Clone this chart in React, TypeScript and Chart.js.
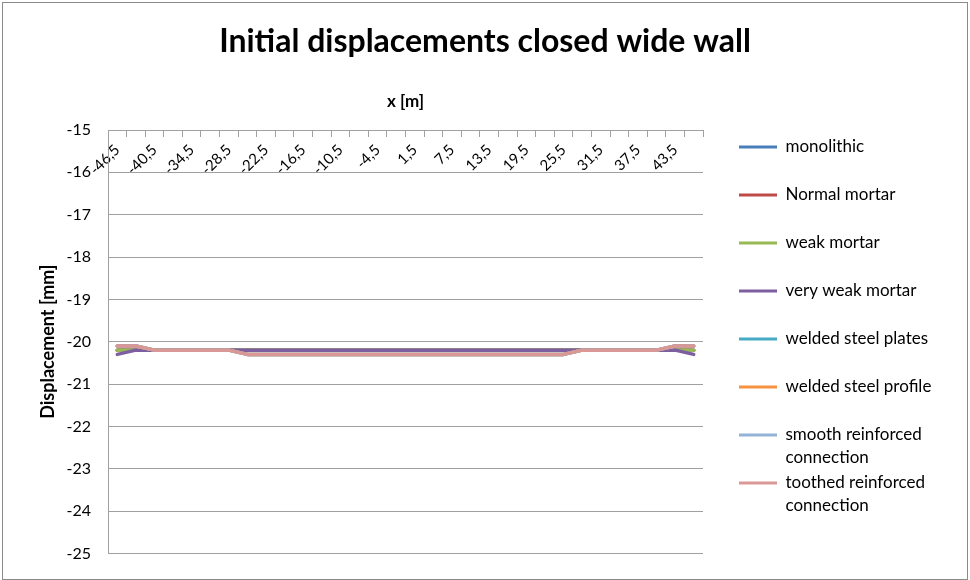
import { useEffect, useRef } from 'react';
import { Chart, registerables } from 'chart.js';

Chart.register(...registerables);

const FONT = "Lato, 'DejaVu Sans', sans-serif";

const xLabels = [
  '-46,5', '-43,5', '-40,5', '-37,5', '-34,5', '-31,5', '-28,5', '-25,5',
  '-22,5', '-19,5', '-16,5', '-13,5', '-10,5', '-7,5', '-4,5', '-1,5',
  '1,5', '4,5', '7,5', '10,5', '13,5', '16,5', '19,5', '22,5',
  '25,5', '28,5', '31,5', '34,5', '37,5', '40,5', '43,5', '46,5',
];

const monolithic = [
  -20.2, -20.2, -20.2, -20.2, -20.2, -20.2, -20.2, -20.2,
  -20.2, -20.2, -20.2, -20.2, -20.2, -20.2, -20.2, -20.2,
  -20.2, -20.2, -20.2, -20.2, -20.2, -20.2, -20.2, -20.2,
  -20.2, -20.2, -20.2, -20.2, -20.2, -20.2, -20.2, -20.2,
];
const normalMortar = [
  -20.2, -20.2, -20.2, -20.2, -20.2, -20.2, -20.2, -20.2,
  -20.2, -20.2, -20.2, -20.2, -20.2, -20.2, -20.2, -20.2,
  -20.2, -20.2, -20.2, -20.2, -20.2, -20.2, -20.2, -20.2,
  -20.2, -20.2, -20.2, -20.2, -20.2, -20.2, -20.2, -20.2,
];
const weakMortar = [
  -20.2, -20.2, -20.2, -20.2, -20.2, -20.2, -20.2, -20.2,
  -20.2, -20.2, -20.2, -20.2, -20.2, -20.2, -20.2, -20.2,
  -20.2, -20.2, -20.2, -20.2, -20.2, -20.2, -20.2, -20.2,
  -20.2, -20.2, -20.2, -20.2, -20.2, -20.2, -20.2, -20.2,
];
const veryWeakMortar = [
  -20.3, -20.2, -20.2, -20.2, -20.2, -20.2, -20.2, -20.2,
  -20.2, -20.2, -20.2, -20.2, -20.2, -20.2, -20.2, -20.2,
  -20.2, -20.2, -20.2, -20.2, -20.2, -20.2, -20.2, -20.2,
  -20.2, -20.2, -20.2, -20.2, -20.2, -20.2, -20.2, -20.3,
];
const weldedPlates = [
  -20.1, -20.1, -20.2, -20.2, -20.2, -20.2, -20.2, -20.3,
  -20.3, -20.3, -20.3, -20.3, -20.3, -20.3, -20.3, -20.3,
  -20.3, -20.3, -20.3, -20.3, -20.3, -20.3, -20.3, -20.3,
  -20.3, -20.2, -20.2, -20.2, -20.2, -20.2, -20.1, -20.1,
];
const weldedProfile = [
  -20.1, -20.1, -20.2, -20.2, -20.2, -20.2, -20.2, -20.3,
  -20.3, -20.3, -20.3, -20.3, -20.3, -20.3, -20.3, -20.3,
  -20.3, -20.3, -20.3, -20.3, -20.3, -20.3, -20.3, -20.3,
  -20.3, -20.2, -20.2, -20.2, -20.2, -20.2, -20.1, -20.1,
];
const smoothReinforced = [
  -20.1, -20.1, -20.2, -20.2, -20.2, -20.2, -20.2, -20.3,
  -20.3, -20.3, -20.3, -20.3, -20.3, -20.3, -20.3, -20.3,
  -20.3, -20.3, -20.3, -20.3, -20.3, -20.3, -20.3, -20.3,
  -20.3, -20.2, -20.2, -20.2, -20.2, -20.2, -20.1, -20.1,
];
const toothedReinforced = [
  -20.1, -20.1, -20.2, -20.2, -20.2, -20.2, -20.2, -20.3,
  -20.3, -20.3, -20.3, -20.3, -20.3, -20.3, -20.3, -20.3,
  -20.3, -20.3, -20.3, -20.3, -20.3, -20.3, -20.3, -20.3,
  -20.3, -20.2, -20.2, -20.2, -20.2, -20.2, -20.1, -20.1,
];

const seriesNames = [
  'monolithic', 'Normal mortar', 'weak mortar', 'very weak mortar',
  'welded steel plates', 'welded steel profile', 'smooth reinforced connection', 'toothed reinforced connection',
];
const legendLines = [
  ['monolithic', ''], ['Normal mortar', ''], ['weak mortar', ''], ['very weak mortar', ''],
  ['welded steel plates', ''], ['welded steel profile', ''], ['smooth reinforced', 'connection'], ['toothed reinforced', 'connection'],
];
const seriesColors = ['#4A7EBB', '#BE4B48', '#98B954', '#7D5FA0', '#46AAC5', '#F69240', '#94B3D6', '#D99795'];
const seriesData = [monolithic, normalMortar, weakMortar, veryWeakMortar, weldedPlates, weldedProfile, smoothReinforced, toothedReinforced];

const yMin = -25;
const yMax = -15;
const yStep = 1;

const LEGEND_SIZE = 17;

export default function App() {
  const ref = useRef<HTMLCanvasElement>(null);

  useEffect(() => {
    const canvas = ref.current;
    if (!canvas) return;

    // measure legend natural width to place chart area precisely
    const mctx = document.createElement('canvas').getContext('2d')!;
    mctx.font = `normal ${LEGEND_SIZE}px ${FONT}`;
    let maxText = 0;
    legendLines.forEach((lines) => {
      const longest = lines.reduce((a, b) => (a.length > b.length ? a : b));
      maxText = Math.max(maxText, mctx.measureText(longest).width);
    });
    const legendW = Math.min(233, 2 + 38 + LEGEND_SIZE / 2 + maxText + 10);
    const padR = Math.max(0, 970 - 737 - legendW);
    // symmetric padding so the full-width title stays centred on the canvas
    const padL = Math.min(padR, 30);

    const gridColor = '#a0a0a0';

    const chart = new Chart(canvas, {
      type: 'line',
      data: {
        labels: xLabels,
        datasets: seriesData.map((d, i) => ({
          label: seriesNames[i],
          data: d,
          borderColor: seriesColors[i],
          backgroundColor: seriesColors[i],
          borderWidth: 3.5,
          pointRadius: 0,
          pointHoverRadius: 0,
          tension: 0,
          fill: false,
          borderJoinStyle: 'round' as const,
          borderCapStyle: 'round' as const,
          order: seriesData.length - 1 - i,
        })),
      },
      options: {
        responsive: false,
        animation: false,
        layout: { padding: { left: padL, top: 0, right: padR, bottom: 22 } },
        plugins: {
          tooltip: { enabled: false },
          title: {
            display: true,
            text: 'Initial displacements closed wide wall',
            color: '#000',
            font: { family: FONT, size: 32, weight: 'bold' },
            padding: { top: 22.5, bottom: 0 },
          },
          legend: {
            display: true,
            position: 'right',
            align: 'start',
            fullSize: false,
            maxWidth: legendW,
            title: { display: true, text: '', font: { size: 5, lineHeight: 1.3 }, padding: 0 },
            labels: {
              boxWidth: 38,
              boxHeight: 3,
              padding: 2,
              color: '#000',
              font: { family: FONT, size: LEGEND_SIZE, lineHeight: '23px' },
              generateLabels: () =>
                seriesNames.map((_, i) => ({
                  text: legendLines[i] as any,
                  fillStyle: seriesColors[i],
                  strokeStyle: seriesColors[i],
                  fontColor: '#000',
                  lineWidth: 0,
                  hidden: false,
                  datasetIndex: i,
                })),
            },
          },
        },
        scales: {
          x: {
            type: 'category',
            position: { y: yMax } as any,
            offset: true,
            grid: { offset: true, drawOnChartArea: false, drawTicks: true, tickLength: 6, color: gridColor },
            border: { display: true, color: gridColor },
            ticks: {
              autoSkip: false,
              minRotation: 45,
              maxRotation: 45,
              padding: 5,
              color: '#000',
              font: { family: FONT, size: 15 },
              callback: (_v: any, i: number) => (i % 2 === 0 ? xLabels[i] : ''),
            },
          },
          x2: {
            type: 'category',
            position: 'top',
            grid: { display: false, drawTicks: false },
            ticks: { display: false },
            border: { display: false },
            title: {
              display: true,
              text: 'x [m]',
              color: '#000',
              font: { family: FONT, size: 17, weight: 'bold' },
              padding: { top: 30.9, bottom: 0 },
            },
            afterFit: (s: any) => { s.height = 69.1; },
          },
          y: {
            type: 'linear',
            min: yMin,
            max: yMax,
            ticks: { stepSize: yStep, padding: 17, color: '#000', font: { family: FONT, size: 16 } },
            grid: { color: gridColor, drawTicks: false },
            border: { display: true, color: gridColor },
            title: {
              display: true,
              text: 'Displacement [mm]',
              color: '#000',
              font: { family: FONT, size: 18, weight: 'bold' },
              padding: { top: 37.2 - padL, bottom: 0 },
            },
            afterFit: (s: any) => { s.width = 108 - padL; },
          },
          y2: {
            type: 'linear',
            position: 'right',
            display: true,
            grid: { display: false, drawTicks: false },
            ticks: { display: false },
            border: { display: false },
            afterFit: (s: any) => { s.width = 34; },
          },
        },
      } as any,
    });

    return () => chart.destroy();
  }, []);

  return (
    <div style={{ position: 'fixed', left: 0, top: 0, width: 970, height: 580, background: '#fff' }}>
      <div
        style={{
          position: 'absolute', left: 2, top: 2, width: 966, height: 578,
          border: '1px solid #8a8a8a', boxSizing: 'border-box', pointerEvents: 'none',
        }}
      />
      <canvas ref={ref} width={970} height={580} style={{ position: 'absolute', left: 0, top: 0 }} />
    </div>
  );
}
